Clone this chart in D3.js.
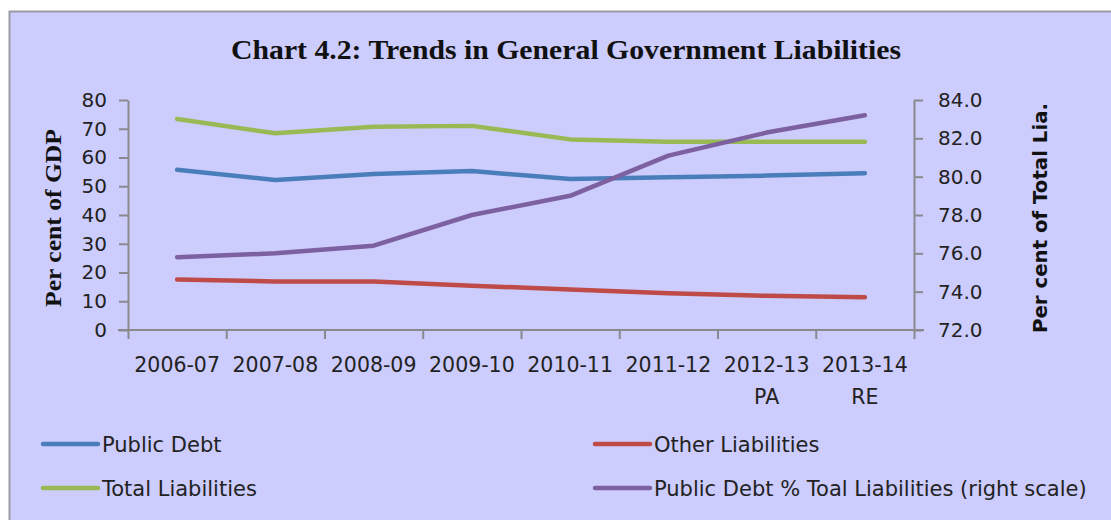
<!DOCTYPE html>
<html>
<head>
<meta charset="utf-8">
<script src="https://cdn.jsdelivr.net/npm/d3@7"></script>
<style>
  html, body { margin: 0; padding: 0; background: #ffffff; }
  svg { display: block; }
</style>
</head>
<body>
<svg id="chart" width="1111" height="520"></svg>
<script>
// Fiscal years on the category axis (second line marks provisional / revised)
const years = ["2006-07", "2007-08", "2008-09", "2009-10", "2010-11", "2011-12", "2012-13", "2013-14"];
const yearNotes = ["", "", "", "", "", "", "PA", "RE"];

// Liabilities, per cent of GDP (left scale)
const publicDebt = [55.7, 52.2, 54.3, 55.3, 52.5, 53.1, 53.7, 54.5];
const otherLiabilities = [17.6, 16.9, 16.9, 15.4, 14.1, 12.8, 11.9, 11.4];
const totalLiabilities = [73.4, 68.4, 70.7, 71.0, 66.3, 65.5, 65.5, 65.5];

// Public debt as per cent of total liabilities (right scale)
const debtShare = [75.8, 76.0, 76.4, 78.0, 79.0, 81.1, 82.3, 83.2];

const leftTicks = [0, 10, 20, 30, 40, 50, 60, 70, 80];
const rightTicks = [72, 74, 76, 78, 80, 82, 84];

const svg = d3.select("#chart");
const W = 1111, H = 520;
const plot = { left: 128, right: 914, top: 100, bottom: 330 };

const labelFont = "'DejaVu Sans', Verdana, sans-serif";
const textColor = "#222222";
const axisColor = "#8a8a8e";

// Chart area with its frame
svg.append("rect")
  .attr("x", 9.5).attr("y", 11.5)
  .attr("width", W + 20).attr("height", H + 20)
  .attr("fill", "#ccccfd")
  .attr("stroke", "#9a9aa4")
  .attr("stroke-width", 2);

// Title
svg.append("text")
  .attr("x", 566).attr("y", 59)
  .attr("text-anchor", "middle")
  .attr("font-family", "'Liberation Serif', 'Times New Roman', serif")
  .attr("font-weight", "bold")
  .attr("font-size", 27)
  .attr("textLength", 670)
  .attr("lengthAdjust", "spacingAndGlyphs")
  .attr("fill", "#111111")
  .text("Chart 4.2: Trends in General Government Liabilities");

// Scales
const xBand = d3.scaleBand().domain(years).range([plot.left, plot.right]).padding(0);
const xBoundary = d3.scaleLinear().domain([0, years.length]).range([plot.left, plot.right]);
const yLeft = d3.scaleLinear().domain([0, 80]).range([plot.bottom, plot.top]);
const yRight = d3.scaleLinear().domain([72, 84]).range([plot.bottom, plot.top]);
const cx = d => xBand(d) + xBand.bandwidth() / 2;

function styleAxis(g) {
  g.selectAll(".domain").attr("stroke", axisColor).attr("stroke-width", 2);
  g.selectAll(".tick line").attr("stroke", axisColor).attr("stroke-width", 2);
  g.selectAll(".tick text")
    .attr("font-family", labelFont)
    .attr("font-size", 20)
    .attr("fill", textColor);
}

// Left axis
const gLeft = svg.append("g")
  .attr("transform", `translate(${plot.left},0)`)
  .call(d3.axisLeft(yLeft).tickValues(leftTicks).tickSize(9).tickSizeOuter(0).tickPadding(12).tickFormat(d3.format("d")));
styleAxis(gLeft);

// Right axis
const gRight = svg.append("g")
  .attr("transform", `translate(${plot.right},0)`)
  .call(d3.axisRight(yRight).tickValues(rightTicks).tickSize(9).tickSizeOuter(0).tickPadding(15).tickFormat(d3.format(".1f")));
styleAxis(gRight);

// Category axis: ticks on band boundaries, labels at band centres
const gBottom = svg.append("g")
  .attr("transform", `translate(0,${plot.bottom})`)
  .call(d3.axisBottom(xBoundary).tickValues(d3.range(years.length + 1)).tickSize(9).tickSizeOuter(0).tickFormat(""));
styleAxis(gBottom);
gBottom.select(".domain").attr("d", `M${plot.left - 10},0H${plot.right + 10}`);

const xLabels = svg.append("g");
xLabels.selectAll("text.year")
  .data(years)
  .join("text")
  .attr("class", "year")
  .attr("x", d => cx(d))
  .attr("y", 372)
  .attr("text-anchor", "middle")
  .attr("font-family", labelFont)
  .attr("font-size", 20.5)
  .attr("fill", textColor)
  .text(d => d);
xLabels.selectAll("text.note")
  .data(years)
  .join("text")
  .attr("class", "note")
  .attr("x", d => cx(d))
  .attr("y", 404)
  .attr("text-anchor", "middle")
  .attr("font-family", labelFont)
  .attr("font-size", 20.5)
  .attr("fill", textColor)
  .text((d, i) => yearNotes[i]);

// Axis titles
svg.append("text")
  .attr("transform", "translate(61,218) rotate(-90)")
  .attr("text-anchor", "middle")
  .attr("font-family", "'Liberation Serif', 'Times New Roman', serif")
  .attr("font-weight", "bold")
  .attr("font-size", 23)
  .attr("textLength", 178)
  .attr("lengthAdjust", "spacingAndGlyphs")
  .attr("fill", "#111111")
  .text("Per cent of GDP");

svg.append("text")
  .attr("transform", "translate(1047,218) rotate(-90)")
  .attr("text-anchor", "middle")
  .attr("font-family", labelFont)
  .attr("font-weight", "bold")
  .attr("font-size", 19)
  .attr("textLength", 230)
  .attr("lengthAdjust", "spacingAndGlyphs")
  .attr("fill", "#111111")
  .text("Per cent of Total Lia.");

// Series
const series = [
  { name: "Public Debt", values: publicDebt, scale: yLeft, color: "#4a7ebb" },
  { name: "Other Liabilities", values: otherLiabilities, scale: yLeft, color: "#be4b48" },
  { name: "Total Liabilities", values: totalLiabilities, scale: yLeft, color: "#98b954" },
  { name: "Public Debt % Toal Liabilities (right scale)", values: debtShare, scale: yRight, color: "#7d60a0" }
];

const lines = svg.append("g");
series.forEach(s => {
  const line = d3.line()
    .x((d, i) => cx(years[i]))
    .y(d => s.scale(d));
  lines.append("path")
    .datum(s.values)
    .attr("d", line)
    .attr("fill", "none")
    .attr("stroke", s.color)
    .attr("stroke-width", 4.5)
    .attr("stroke-linejoin", "round")
    .attr("stroke-linecap", "round");
});

// Legend, two columns by two rows
const legendPos = [
  { x: 43, y: 444 },
  { x: 595, y: 444 },
  { x: 43, y: 488 },
  { x: 595, y: 488 }
];
const legend = svg.append("g");
series.forEach((s, i) => {
  const p = legendPos[i];
  legend.append("line")
    .attr("x1", p.x).attr("x2", p.x + 55)
    .attr("y1", p.y).attr("y2", p.y)
    .attr("stroke", s.color)
    .attr("stroke-width", 4.5)
    .attr("stroke-linecap", "round");
  legend.append("text")
    .attr("x", p.x + 59)
    .attr("y", p.y + 8)
    .attr("font-family", labelFont)
    .attr("font-size", 21)
    .attr("fill", textColor)
    .text(s.name);
});
</script>
</body>
</html>
